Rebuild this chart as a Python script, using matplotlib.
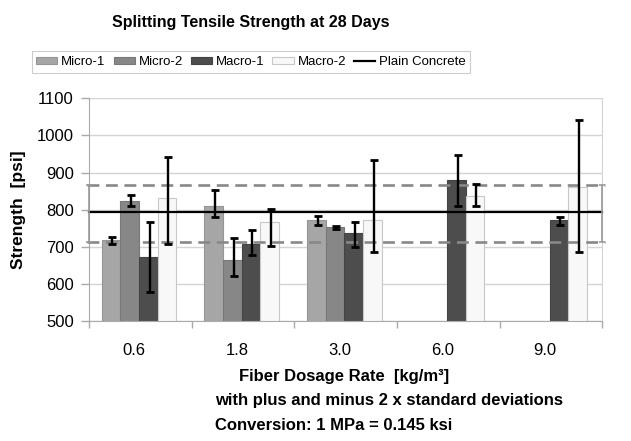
import numpy as np
import matplotlib.pyplot as plt
from matplotlib.transforms import ScaledTranslation

plt.rcParams['font.family'] = ['Liberation Sans', 'DejaVu Sans']

dosages = ['0.6', '1.8', '3.0', '6.0', '9.0']
series = ['Micro-1', 'Micro-2', 'Macro-1', 'Macro-2']

nan = np.nan
micro1 = [718, 809, 772, nan, nan]
micro1_lo = [707, 780, 758, nan, nan]
micro1_hi = [725, 853, 782, nan, nan]
micro2 = [823, 665, 752, nan, nan]
micro2_lo = [809, 621, 748, nan, nan]
micro2_hi = [840, 723, 757, nan, nan]
macro1 = [672, 708, 737, 881, 772]
macro1_lo = [578, 678, 700, 810, 758]
macro1_hi = [767, 745, 767, 947, 780]
macro2 = [831, 766, 773, 838, 862]
macro2_lo = [708, 701, 686, 810, 686]
macro2_hi = [941, 803, 934, 868, 1042]

plain_mean = 795
plain_upper = 867
plain_lower = 714

colors = ['#a6a6a6', '#878787', '#4d4d4d', '#f8f8f8']
edges = ['#959595', '#787878', '#444444', '#c8c8c8']

fig = plt.figure(figsize=(6.31, 4.41), dpi=100)
ax = fig.add_axes([0.141, 0.2721, 0.8138, 0.505])

x = np.arange(len(dosages))
w = 0.1815
shift = -0.013
vals = [micro1, micro2, macro1, macro2]
los = [micro1_lo, micro2_lo, macro1_lo, macro2_lo]
his = [micro1_hi, micro2_hi, macro1_hi, macro2_hi]

handles = []
for i in range(4):
    pos = x + shift + (i - 1.5) * w
    b = ax.bar(pos, vals[i], w, bottom=0, color=colors[i], edgecolor=edges[i],
               linewidth=0.8, zorder=2, label=series[i])
    handles.append(b)

# plain concrete mean and +/- 2 sd
ln, = ax.plot([-0.5, 4.5], [plain_mean, plain_mean], color='black', lw=1.6,
              zorder=3, label='Plain Concrete', clip_on=False)
handles.append(ln)
for yv in (plain_upper, plain_lower):
    ax.plot([-0.52, 4.52], [yv, yv], color='#888888', lw=1.9,
            dashes=(4.5, 2.5), zorder=3, clip_on=False)
half = (plain_upper - plain_lower) / 2
mid = (plain_upper + plain_lower) / 2
ax.errorbar([-0.5, 4.5], [mid, mid], yerr=half, fmt='none', ecolor='#999999',
            elinewidth=1.2, capsize=2.5, capthick=1.2, zorder=3, clip_on=False)

for i in range(4):
    pos = x + (i - 1.5) * w
    lo = np.array(los[i], dtype=float)
    hi = np.array(his[i], dtype=float)
    ax.errorbar(pos, (lo + hi) / 2, yerr=(hi - lo) / 2, fmt='none', ecolor='black',
                elinewidth=1.7, capsize=3, capthick=2, zorder=4)

ax.set_xlim(-0.5, 4.5)
ax.set_ylim(500, 1100)
ax.set_yticks(np.arange(500, 1101, 100))
ax.yaxis.grid(True, color='#d4d4d4', lw=1)
ax.set_axisbelow(True)
ax.set_xticks(x)
ax.set_xticklabels(dosages, fontsize=12)
ax.set_xticks(np.arange(-0.5, 4.6, 1), minor=True)
ax.tick_params(axis='x', which='major', length=0, pad=16)
ax.tick_params(axis='x', which='minor', length=5, color='#aaaaaa', width=1)
ax.tick_params(axis='y', length=6, color='#aaaaaa', width=1, labelsize=12, pad=5)
for lab in ax.get_xticklabels():
    lab.set_transform(lab.get_transform() + ScaledTranslation(-6 / 100, 0, fig.dpi_scale_trans))

ax.spines['top'].set_visible(False)
ax.spines['left'].set_color('#aaaaaa')
ax.spines['bottom'].set_color('#aaaaaa')
ax.spines['right'].set_color('#d4d4d4')

ax.set_ylabel('Strength  [psi]', fontsize=12.5, fontweight='bold', labelpad=8)

fig.text(251 / 631, 1 - 22 / 441, 'Splitting Tensile Strength at 28 Days',
         ha='center', va='center', fontsize=11.5, fontweight='bold')
fig.text(344 / 631, 1 - 377 / 441, 'Fiber Dosage Rate  [kg/m\u00b3]',
         ha='center', va='center', fontsize=12, fontweight='bold')
fig.text(215 / 631, 1 - 400 / 441, 'with plus and minus 2 x standard deviations',
         ha='left', va='center', fontsize=12, fontweight='bold')
fig.text(215 / 631, 1 - 425 / 441, 'Conversion: 1 MPa = 0.145 ksi',
         ha='left', va='center', fontsize=12, fontweight='bold')

leg = fig.legend(handles=handles, loc='center', bbox_to_anchor=(251 / 631, 1 - 62 / 441),
                 ncol=5, fontsize=9.5, frameon=True, fancybox=False, edgecolor='#c0c0c0',
                 handlelength=1.6, handletextpad=0.3, columnspacing=0.6,
                 borderpad=0.35, handleheight=0.5)
leg.get_frame().set_linewidth(0.8)

fig.savefig('out.png', dpi=100)
